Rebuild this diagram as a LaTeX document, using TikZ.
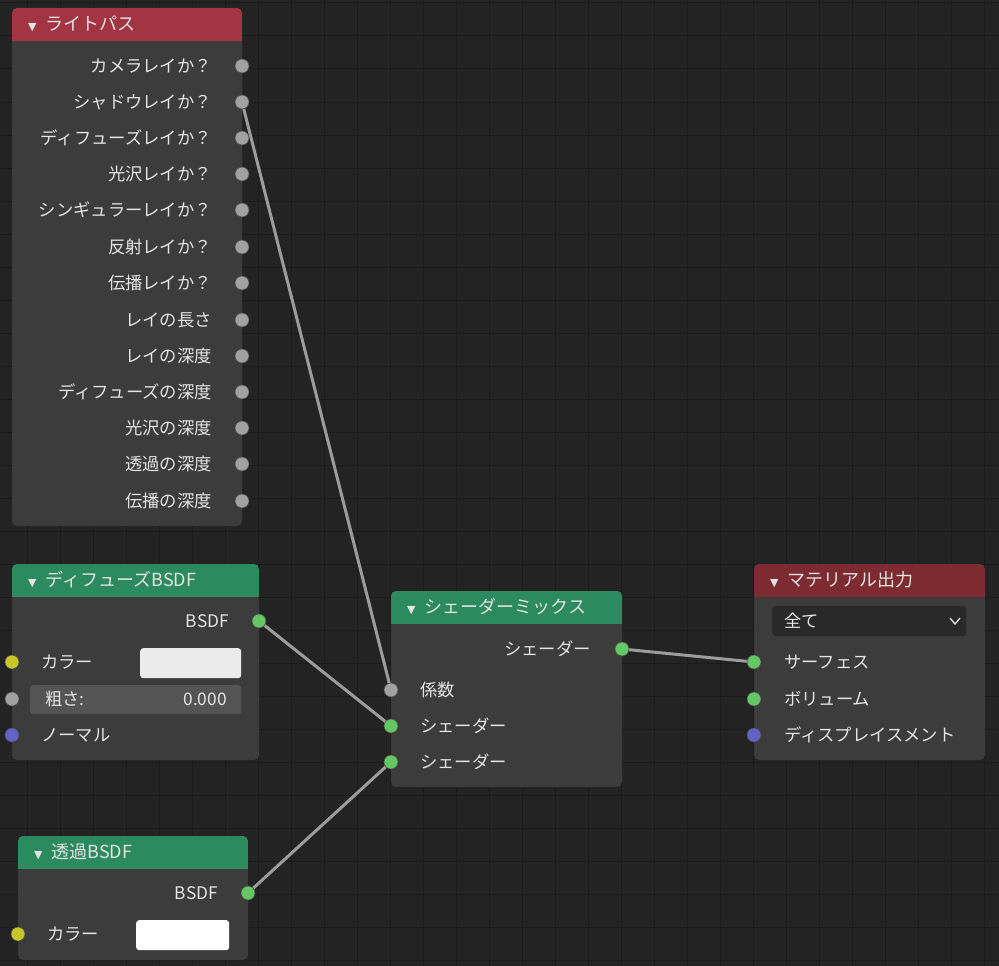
\documentclass[tikz,border=0pt]{standalone}
\usepackage{fontspec}
\newfontfamily\jp{Noto Sans CJK JP}
\newfontfamily\dv{DejaVu Sans}
\definecolor{bg}{HTML}{232323}
\definecolor{gridc}{HTML}{1B1B1B}
\definecolor{body}{HTML}{3C3C3C}
\definecolor{hred}{HTML}{A33441}
\definecolor{hred2}{HTML}{7E2A31}
\definecolor{hgreen}{HTML}{2B8A5E}
\definecolor{sgray}{HTML}{A1A1A1}
\definecolor{sgreen}{HTML}{63C763}
\definecolor{syellow}{HTML}{C7C729}
\definecolor{spurple}{HTML}{6363C7}
\definecolor{txt}{HTML}{E4E4E4}
\definecolor{linkc}{HTML}{9C9C9C}
\newcommand{\nbox}[6]{%
  \fill[nodebody] (#1,#2) rectangle (#3,#5);
  \begin{scope}\clip[rounded corners=5pt] (#1,#2) rectangle (#3,#5);
  \fill[#6] (#1,#2) rectangle (#3,#4);\end{scope}}
\newcommand{\tri}{{\dv\fontsize{11}{11}\selectfont▼}\hspace{9pt}}
\begin{document}
\begin{tikzpicture}[x=1pt,y=-1pt,
  sock/.style={circle,inner sep=0pt,minimum size=14pt,draw=black!70,line width=0.6pt},
  lbl/.style={text=txt,font=\jp\fontsize{17.3}{19}\selectfont,inner sep=0pt},
  hdr/.style={text=txt,font=\jp\fontsize{18}{20}\selectfont,inner sep=0pt,anchor=west},
  nodebody/.style={fill=body,rounded corners=5pt},
  link/.style={draw=linkc,line width=3pt,line cap=round}]
\fill[bg] (0,0) rectangle (999,966);
\useasboundingbox (0,0) rectangle (999,966);
\foreach \i in {0,...,30} {\draw[gridc,line width=1pt] (27+33*\i,0) -- (27+33*\i,966);}
\foreach \i in {0,...,29} {\draw[gridc,line width=1pt] (0,3+33*\i) -- (999,3+33*\i);}
\nbox{12}{8}{242}{41}{526}{hred}
\nbox{12}{564}{259}{597}{760}{hgreen}
\nbox{391}{591}{622}{624}{787}{hgreen}
\nbox{754}{564}{985}{597}{760}{hred2}
\nbox{18}{836}{248}{869}{960}{hgreen}
% links
\draw[link] (242,102) -- (391,690);
\draw[link] (259,621) -- (391,726);
\draw[link] (248,893) -- (391,762);
\draw[link] (622,649) -- (754,662);
% headers
\node[hdr] (h1) at (28,24) {\tri ライトパス};
\node[hdr] (h2) at (28,580) {\tri ディフューズBSDF};
\node[hdr] (h3) at (407,607) {\tri シェーダーミックス};
\node[hdr] (h4) at (770,580) {\tri マテリアル出力};
\node[hdr] (h5) at (34,852) {\tri 透過BSDF};
\foreach \y/\t [count=\k] in {66/カメラレイか？,102/シャドウレイか？,138/ディフューズレイか？,174/光沢レイか？,210/シンギュラーレイか？,247/反射レイか？,283/伝播レイか？,320/レイの長さ,356/レイの深度,392/ディフューズの深度,428/光沢の深度,464/透過の深度,501/伝播の深度} {
  \node[lbl,anchor=east] (lp\k) at (212,\y) {\t};
  \node[sock,fill=sgray] (lps\k) at (242,\y) {};
}
% diffuse
\node[lbl,anchor=east] (dbo) at (229,621) {BSDF};
\node[sock,fill=sgreen] (dout) at (259,621) {};
\node[lbl,anchor=west] (dcl) at (41,662) {カラー};
\node[sock,fill=syellow] (dcol) at (12,662) {};
\node[fill=white!92!black,rounded corners=3pt,minimum width=101pt,minimum height=30pt,anchor=north west,inner sep=0pt] (dsw) at (140,648) {};
\node[fill=white!33!black,rounded corners=3pt,minimum width=211pt,minimum height=29pt,anchor=north west,inner sep=0pt] (dfield) at (30,685) {};
\node[lbl,anchor=west] (drl) at (45,699) {粗さ:};
\node[lbl,anchor=east] (drv) at (227,699) {0.000};
\node[sock,fill=sgray] (drough) at (12,699) {};
\node[lbl,anchor=west] (dnl) at (41,735) {ノーマル};
\node[sock,fill=spurple] (dnorm) at (12,735) {};
% mix
\node[lbl,anchor=east] (mol) at (591,649) {シェーダー};
\node[sock,fill=sgreen] (mout) at (622,649) {};
\node[lbl,anchor=west] (mfl) at (420,690) {係数};
\node[sock,fill=sgray] (mfac) at (391,690) {};
\node[lbl,anchor=west] (ms1l) at (420,726) {シェーダー};
\node[sock,fill=sgreen] (ms1) at (391,726) {};
\node[lbl,anchor=west] (ms2l) at (420,762) {シェーダー};
\node[sock,fill=sgreen] (ms2) at (391,762) {};
% material output
\node[fill=white!16!black,rounded corners=3pt,minimum width=194pt,minimum height=30pt,anchor=north west,inner sep=0pt] (dd) at (772,606) {};
\node[lbl,anchor=west] (ddt) at (784,621) {全て};
\draw[txt,line width=1.3pt] (950,618) -- (955,624) -- (960,618);
\node[lbl,anchor=west] (osl) at (784,662) {サーフェス};
\node[sock,fill=sgreen] (osurf) at (754,662) {};
\node[lbl,anchor=west] (ovl) at (784,699) {ボリューム};
\node[sock,fill=sgreen] (ovol) at (754,699) {};
\node[lbl,anchor=west] (odl) at (784,735) {ディスプレイスメント};
\node[sock,fill=spurple] (odisp) at (754,735) {};
% transparent
\node[lbl,anchor=east] (tbo) at (218,893) {BSDF};
\node[sock,fill=sgreen] (tout) at (248,893) {};
\node[lbl,anchor=west] (tcl) at (47,934) {カラー};
\node[sock,fill=syellow] (tcol) at (18,934) {};
\node[fill=white,rounded corners=3pt,minimum width=93pt,minimum height=30pt,anchor=north west,inner sep=0pt] (tsw) at (136,920) {};
\end{tikzpicture}
\end{document}
